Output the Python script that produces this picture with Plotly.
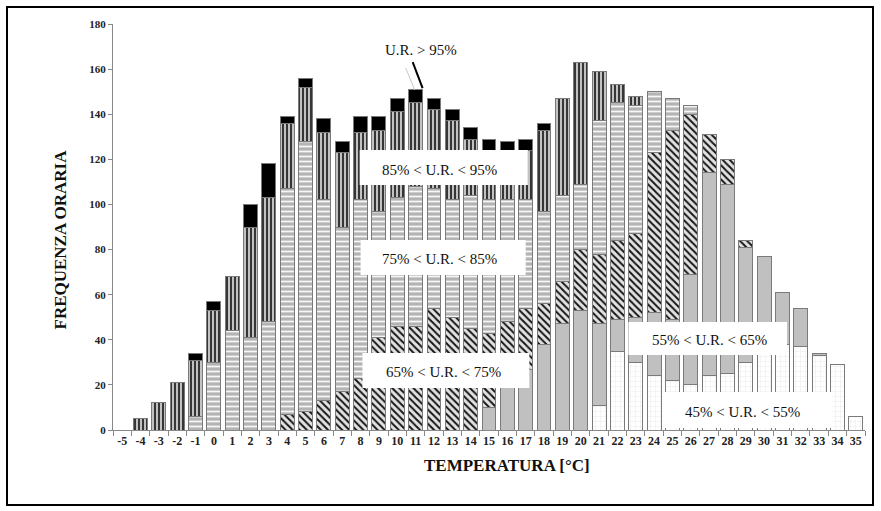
import plotly.graph_objects as go

# Temperature classes (°C)
temperature = list(range(-5, 36))
labels = [str(t) for t in temperature]

# Hourly frequency per relative-humidity class, one value per temperature
rh_45_55 = [0, 0, 0, 0, 0, 0, 0, 0, 0, 0, 0, 0, 0, 0, 0, 0, 0, 0, 0, 0,
            0, 0, 0, 0, 0, 0, 11, 35, 30, 24, 22, 20, 24, 25, 30, 38, 38, 37, 33, 29, 6]
rh_55_65 = [0, 0, 0, 0, 0, 0, 0, 0, 0, 0, 0, 0, 0, 0, 0, 0, 0, 0, 0, 0,
            10, 22, 27, 38, 47, 53, 36, 14, 20, 28, 27, 49, 90, 84, 51, 39, 23, 17, 1, 0, 0]
rh_65_75 = [0, 0, 0, 0, 0, 0, 0, 0, 0, 7, 8, 13, 17, 23, 41, 46, 46, 54, 50, 45,
            33, 26, 27, 18, 19, 27, 31, 35, 37, 71, 84, 71, 17, 11, 3, 0, 0, 0, 0, 0, 0]
rh_75_85 = [0, 0, 0, 0, 6, 30, 44, 41, 48, 100, 120, 89, 73, 79, 56, 57, 62, 53, 52, 59,
            59, 54, 48, 41, 38, 29, 59, 61, 57, 27, 14, 4, 0, 0, 0, 0, 0, 0, 0, 0, 0]
rh_85_95 = [0, 5, 12, 21, 25, 23, 24, 49, 55, 29, 24, 30, 33, 30, 36, 38, 37, 35, 35, 25,
            22, 21, 22, 36, 43, 54, 22, 8, 4, 0, 0, 0, 0, 0, 0, 0, 0, 0, 0, 0, 0]
rh_over_95 = [0, 0, 0, 0, 3, 4, 0, 10, 15, 3, 4, 6, 5, 7, 6, 6, 6, 5, 5, 5,
              5, 5, 5, 3, 0, 0, 0, 0, 0, 0, 0, 0, 0, 0, 0, 0, 0, 0, 0, 0, 0]

OUTLINE = dict(color="#7a7a7a", width=1)

series = [
    ("45% < U.R. < 55%", rh_45_55,
     dict(shape="+", fgcolor="#d6d6d6", bgcolor="#ffffff", size=5, solidity=0.1)),
    ("55% < U.R. < 65%", rh_55_65, None),
    ("65% < U.R. < 75%", rh_65_75,
     dict(shape="\\", fgcolor="#151515", bgcolor="#e2e2e2", size=5, solidity=0.4)),
    ("75% < U.R. < 85%", rh_75_85,
     dict(shape="-", fgcolor="#f7f7f7", bgcolor="#b4b4b4", size=5, solidity=0.35)),
    ("85% < U.R. < 95%", rh_85_95,
     dict(shape="|", fgcolor="#262626", bgcolor="#c2c2c2", size=4, solidity=0.45)),
    ("U.R. > 95%", rh_over_95, None),
]
solid_colors = {"55% < U.R. < 65%": "#c0c0c0", "U.R. > 95%": "#000000"}

fig = go.Figure()
for name, values, pattern in series:
    y = [v if v else None for v in values]
    marker = dict(line=OUTLINE)
    if pattern:
        marker["color"] = pattern["bgcolor"]
        marker["pattern"] = dict(fillmode="replace", **pattern)
    else:
        marker["color"] = solid_colors[name]
    fig.add_trace(go.Bar(x=labels, y=y, name=name, marker=marker,
                         showlegend=False, hoverinfo="x+y+name"))

W, H = 881, 511
ML, MR, MT, MB = 113, 16, 24, 81
PW, PH = W - ML - MR, H - MT - MB


def px(x):
    return (x - ML) / PW


def py(y):
    return (H - MB - y) / PH


SERIF = "Liberation Serif, Times New Roman, serif"

fig.update_layout(
    width=W, height=H,
    margin=dict(l=ML, r=MR, t=MT, b=MB),
    barmode="stack", bargap=0.24,
    paper_bgcolor="white", plot_bgcolor="white",
    font=dict(family=SERIF, color="#111"),
    xaxis=dict(type="category", tickson="boundaries", ticks="outside", ticklen=5,
               tickcolor="#888", showline=True, linecolor="#888", linewidth=1,
               showgrid=False, tickangle=0,
               tickfont=dict(family=SERIF, size=12, color="#222", weight="bold")),
    yaxis=dict(range=[0, 180], dtick=20, ticks="outside", ticklen=4, tickcolor="#888",
               showline=True, linecolor="#888", linewidth=1, showgrid=False,
               zeroline=False,
               tickfont=dict(family=SERIF, size=11, color="#222", weight="bold")),
)

# White label boxes (category index / value coordinates)
boxes = [
    (12.95, 22.12, 108.6, 124.1),
    (13.0, 22.0, 68.7, 84.2),
    (13.1, 22.2, 18.6, 34.1),
    (27.6, 36.25, 33.2, 47.9),
    (29.5, 38.75, 0.9, 16.8),
]
for x0, x1, y0, y1 in boxes:
    fig.add_shape(type="rect", x0=x0, x1=x1, y0=y0, y1=y1, xref="x", yref="y",
                  fillcolor="white", line=dict(width=0), layer="above")

texts = [
    ("85% < U.R. < 95%", 17.3, 115.2),
    ("75% < U.R. < 85%", 17.3, 75.8),
    ("65% < U.R. < 75%", 17.5, 25.7),
    ("55% < U.R. < 65%", 32.0, 39.9),
    ("45% < U.R. < 55%", 33.8, 8.0),
    ("U.R. > 95%", 16.3, 168.4),
]
for t, x, y in texts:
    fig.add_annotation(text=t, x=x, y=y, xref="x", yref="y", showarrow=False,
                       font=dict(family=SERIF, size=15, color="#111"))

# Leader line to the >95% class
fig.add_shape(type="line", x0=15.46, y0=160.5, x1=15.95, y1=150.7,
              xref="x", yref="y", line=dict(color="#c8c8c8", width=1), layer="above")
fig.add_shape(type="line", x0=15.84, y0=163.1, x1=16.38, y1=151.6,
              xref="x", yref="y", line=dict(color="#000", width=2), layer="above")

# Axis titles
fig.add_annotation(text="<b>FREQUENZA ORARIA</b>", x=px(48), y=py(240), xref="paper",
                   yref="paper", showarrow=False, textangle=-90,
                   font=dict(family=SERIF, size=17, color="#111"))
fig.add_annotation(text="<b>TEMPERATURA [°C]</b>", x=px(507), y=py(477), xref="paper",
                   yref="paper", showarrow=False,
                   font=dict(family=SERIF, size=17, color="#111"))

# Outer frame
fig.add_shape(type="rect", x0=px(7), x1=px(873), y0=py(505), y1=py(7),
              xref="paper", yref="paper", line=dict(color="#000", width=2),
              fillcolor="rgba(0,0,0,0)", layer="above")

fig.write_html("out.html")
